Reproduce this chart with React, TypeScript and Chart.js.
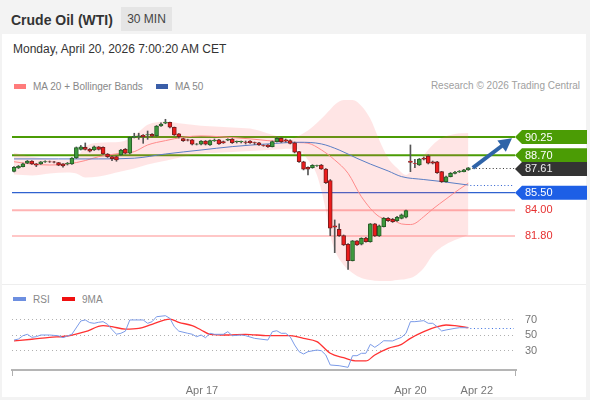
import React, { useEffect, useRef } from 'react';
import { Chart, registerables } from 'chart.js';

Chart.register(...registerables);

const FONT = '"Liberation Sans", Arial, Helvetica, sans-serif';

// ---- Candles (30 min) ----
const opens = [87.32,87.61,87.72,88.01,88.20,87.95,87.95,88.12,88.14,88.13,88.06,87.95,87.95,87.95,88.46,89.20,89.37,89.20,89.14,89.40,89.37,88.80,88.57,88.57,88.72,89.20,88.86,90.21,90.28,90.40,90.42,90.48,90.34,91.19,91.42,91.51,91.08,90.51,90.11,90.00,90.00,89.63,89.63,89.91,89.57,89.94,90.00,89.85,89.98,90.08,89.85,89.84,89.82,89.91,89.78,89.76,89.54,89.57,89.42,89.85,90.14,90.00,89.94,89.76,89.00,88.14,87.67,87.63,87.80,87.86,87.52,86.52,82.66,82.38,81.83,81.10,79.70,81.38,81.10,81.63,81.32,82.83,81.80,82.60,83.31,83.23,83.11,83.31,83.40,88.20,88.01,87.86,88.43,88.63,88.14,88.14,87.29,86.44,86.86,87.15,87.26,87.29,87.44];
const highs = [87.73,87.82,88.03,88.25,88.23,87.99,88.16,88.22,88.20,88.18,88.09,87.99,88.08,88.50,89.40,89.53,89.74,89.27,89.48,89.44,89.40,88.84,88.63,88.63,89.19,89.27,90.25,90.57,90.57,90.46,90.76,90.55,91.23,91.45,91.76,91.53,91.10,90.55,90.14,90.06,90.04,89.70,89.95,89.95,89.98,90.08,90.04,89.91,90.10,90.12,89.91,89.91,89.91,89.95,89.82,89.80,89.58,89.61,89.91,90.21,90.21,90.08,90.00,89.82,89.03,88.18,87.71,87.89,87.86,87.91,87.56,86.62,83.17,82.83,81.89,81.16,81.42,81.42,81.65,81.68,82.87,82.87,82.74,83.38,83.38,83.30,83.47,83.68,84.02,89.57,88.35,88.42,88.54,88.72,88.20,88.18,87.32,86.92,87.22,87.31,87.39,87.48,87.65];
const lows = [87.26,87.56,87.69,87.97,87.91,87.72,87.91,88.08,88.08,88.04,87.80,87.67,87.86,87.91,88.42,89.14,89.14,88.97,89.10,89.14,88.76,88.50,88.23,88.18,88.67,88.80,88.80,90.17,90.05,89.71,90.05,90.25,90.29,91.15,91.38,91.02,90.38,90.17,89.87,89.91,89.57,89.57,89.58,89.57,89.53,89.87,89.61,89.70,89.93,89.70,89.74,89.74,89.65,89.70,89.61,89.53,89.46,89.36,89.40,89.82,89.78,89.82,89.65,88.89,88.08,87.44,87.01,87.58,87.73,87.48,86.28,81.83,80.38,81.76,80.99,78.96,79.67,80.99,81.04,81.27,81.27,81.76,81.76,82.57,83.04,82.96,83.04,83.26,83.34,87.29,87.63,87.82,88.29,87.95,87.95,87.15,86.37,86.39,86.84,87.09,87.22,87.26,87.40];
const closes = [87.67,87.75,87.97,88.20,87.95,87.84,88.12,88.16,88.13,88.10,87.84,87.78,88.01,88.46,89.34,89.42,89.20,89.03,89.40,89.20,88.80,88.57,88.40,88.29,89.14,88.86,90.23,90.31,90.34,90.28,90.45,90.31,91.19,91.36,91.53,91.08,90.42,90.28,89.94,89.97,89.63,89.65,89.91,89.63,89.94,89.97,89.65,89.74,90.04,89.76,89.88,89.87,89.78,89.76,89.74,89.57,89.53,89.42,89.85,90.14,89.85,89.91,89.71,88.95,88.14,87.50,87.50,87.84,87.82,87.52,86.35,82.46,82.55,81.83,81.04,79.70,81.38,81.04,81.61,81.32,82.83,81.80,82.66,83.31,83.11,83.02,83.40,83.60,83.96,88.09,87.99,88.37,88.35,88.01,88.01,87.20,86.44,86.86,87.15,87.24,87.32,87.44,87.61];

// ---- Indicators, as [candle index, value] readings ----
const ma20 = [[0,88.14],[4,87.94],[8,87.86],[12,87.94],[16,88.24],[19,88.57],[24,88.86],[27,89.0],[30,89.57],[34,89.94],[38,90.23],[42,90.34],[46,90.28],[49,90.2],[53,90.09],[57,89.94],[60,89.86],[64,89.77],[66,89.72],[69,89.15],[72,88.29],[75,87.15],[78,85.15],[82,83.45],[85,83.17],[87,82.83],[89,82.78],[90,82.87],[92,83.45],[94,84.1],[97,84.96],[100,85.8],[102,86.31]];
const ma50 = [[0,88.38],[10,88.38],[19,88.38],[27,88.44],[34,88.8],[42,89.14],[49,89.43],[57,89.66],[64,89.8],[69,89.66],[73,89.14],[77,88.43],[80,87.94],[84,87.35],[87,86.87],[92,86.62],[96,86.45],[102,86.15]];
const bandIdx = [0,4,8,12,14,16,19,24,27,30,34,38,42,46,50,54,58,62,64,66,68,70,71,72,74,76,78,80,82,84,86,88,90,92,94,96,99,102];
const bbUpper = [88.91,88.57,88.40,88.31,88.48,89.42,89.76,89.85,90.36,91.29,91.55,91.37,91.20,91.12,91.03,90.90,90.45,90.10,90.36,90.80,91.44,92.20,92.60,93.00,93.40,93.40,92.90,91.80,90.00,88.46,87.60,87.00,87.86,88.72,89.57,90.16,90.50,90.59];
const bbLower = [87.04,86.96,87.13,87.22,87.13,86.79,86.88,87.30,87.56,87.90,88.23,88.57,88.82,88.90,88.99,89.08,89.16,89.25,89.14,88.29,87.01,84.02,81.89,80.61,79.33,78.65,78.22,78.05,77.96,77.96,78.05,78.13,78.39,79.07,80.18,80.86,81.46,81.89];

const rsi = [[0,43.5],[1,44.8],[2,49.1],[3,50.9],[4,47],[5,47.8],[6,50],[8,50],[10,49],[11,46.5],[12,48.7],[13,51],[15,68.1],[16,69.4],[17,66],[18,65.1],[19,66.4],[20,67.2],[21,63.8],[22,57],[23,51],[24,52.2],[25,55],[26,69.4],[29,69.4],[30,65.1],[31,67.2],[32,73.6],[34,74.9],[35,71.5],[36,60.7],[37,55],[39,52.2],[40,51],[41,47.8],[42,50],[43,46.5],[44,52.2],[45,50.9],[47,50.9],[48,54.3],[49,49.1],[51,50],[52,49.1],[54,45.7],[57,43.5],[58,54.3],[59,55.5],[60,52.2],[61,52.2],[62,47.8],[63,37.1],[64,28.5],[65,25.5],[66,28.5],[68,30.6],[69,29.7],[70,24.2],[71,11.3],[73,10.4],[75,8.3],[76,23.3],[77,23.3],[78,26.4],[79,26.4],[80,38],[81,34.1],[82,38],[83,42.6],[85,42.3],[86,44.8],[87,47],[88,52.2],[89,67.2],[90,67.2],[92,68.5],[93,65.1],[94,65.1],[95,60.7],[96,55.2],[97,56.5],[99,58.6],[100,59.4],[102,59.4]];
const rsiMa = [[0,42.3],[4,44.5],[8,47],[12,48.7],[16,54.3],[20,62],[22,60.7],[25,57.7],[28,58.6],[31,63.8],[35,70.6],[37,66.4],[40,62],[42,56.5],[44,50.9],[48,50],[52,50.9],[57,49.1],[62,49.1],[65,45.7],[68,41.4],[71,26.4],[74,20.7],[77,16.5],[79,16.5],[81,24.2],[84,32.8],[87,38],[89,45.7],[92,54.3],[95,60.7],[97,62.9],[99,62],[102,59.4]];

const rsiTicks = [30, 50, 70];
const dateTicks = [42.2, 89, 103.9];
const dateLabels = ['Apr 17', 'Apr 20', 'Apr 22'];

const resistances = [90.25, 88.70];
const pivot = 85.50;
const supports = [84.00, 81.80];
const lastPrice = 87.61;
const arrowTarget = 90.14;

const X_MIN = -0.45, X_MAX = 112.7;
const P_MIN = 77.62, P_MAX = 94.26;
const R_MIN = 4.84, R_MAX = 88.71;

const pts = (arr: number[][]) => arr.map(([x, y]) => ({ x, y }));

function drawTag(ctx: any, xTip: number, xRight: number, yc: number, h: number, bg: string, text: string, color: string) {
  ctx.save();
  ctx.beginPath();
  ctx.moveTo(xTip, yc);
  ctx.lineTo(xTip + 7, yc - h / 2);
  ctx.lineTo(xRight, yc - h / 2);
  ctx.lineTo(xRight, yc + h / 2);
  ctx.lineTo(xTip + 7, yc + h / 2);
  ctx.closePath();
  ctx.fillStyle = bg;
  ctx.fill();
  ctx.fillStyle = color;
  ctx.font = `11px ${FONT}`;
  ctx.textBaseline = 'middle';
  ctx.textAlign = 'left';
  ctx.fillText(text, xTip + 10, yc + 0.5);
  ctx.restore();
}

const levelsPlugin = {
  id: 'levels',
  beforeDatasetsDraw(chart: any) {
    const { ctx, chartArea, scales } = chart;
    const y = scales.y;
    const x0 = chartArea.left;
    const x1 = chartArea.right - 1;
    const hline = (price: number, color: string, w: number) => {
      const py = y.getPixelForValue(price);
      ctx.save();
      ctx.strokeStyle = color;
      ctx.lineWidth = w;
      ctx.beginPath();
      ctx.moveTo(x0, py);
      ctx.lineTo(x1, py);
      ctx.stroke();
      ctx.restore();
    };
    hline(supports[0], '#ffb4b4', 2);
    hline(supports[1], '#ff9090', 1.2);
    hline(pivot, '#2f62d0', 1.3);
    resistances.forEach((p) => hline(p, '#4b9c05', 2));
  },
  afterDatasetsDraw(chart: any) {
    const { ctx, chartArea, scales } = chart;
    const x = scales.x;
    const y = scales.y;
    const xTip = chartArea.right - 1;
    const xRight = chart.width - 3;
    const last = closes.length - 1;

    ctx.save();
    ctx.setLineDash([1, 2.4]);
    ctx.lineWidth = 1;
    ctx.strokeStyle = '#333';
    let py = Math.round(y.getPixelForValue(lastPrice)) + 0.5;
    ctx.beginPath();
    ctx.moveTo(x.getPixelForValue(last) + 4, py);
    ctx.lineTo(xTip, py);
    ctx.stroke();
    ctx.strokeStyle = '#2c5fd0';
    py = Math.round(y.getPixelForValue(ma50[ma50.length - 1][1])) + 0.5;
    ctx.beginPath();
    ctx.moveTo(x.getPixelForValue(last) + 2, py);
    ctx.lineTo(xTip - 2, py);
    ctx.stroke();
    ctx.restore();

    const ax0 = x.getPixelForValue(last + 1), ay0 = y.getPixelForValue(closes[last]);
    const ax1 = x.getPixelForValue(last + 9.8), ay1 = y.getPixelForValue(arrowTarget);
    const dx = ax1 - ax0, dy = ay1 - ay0;
    const len = Math.hypot(dx, dy);
    const ux = dx / len, uy = dy / len;
    const head = 13, hw = 7;
    const bx = ax1 - ux * head, by = ay1 - uy * head;
    ctx.save();
    ctx.strokeStyle = '#2f64a8';
    ctx.fillStyle = '#2f64a8';
    ctx.lineWidth = 4;
    ctx.beginPath();
    ctx.moveTo(ax0, ay0);
    ctx.lineTo(bx + ux, by + uy);
    ctx.stroke();
    ctx.beginPath();
    ctx.moveTo(ax1, ay1);
    ctx.lineTo(bx - uy * hw, by + ux * hw);
    ctx.lineTo(bx + uy * hw, by - ux * hw);
    ctx.closePath();
    ctx.fill();
    ctx.restore();

    const H = 14;
    resistances.forEach((p) => drawTag(ctx, xTip, xRight, y.getPixelForValue(p), H, '#4b9c05', p.toFixed(2), '#ffffff'));
    drawTag(ctx, xTip, xRight, y.getPixelForValue(lastPrice) + 1, H, '#333333', lastPrice.toFixed(2), '#eeeeee');
    drawTag(ctx, xTip, xRight, y.getPixelForValue(pivot), H, '#1d5fe6', pivot.toFixed(2), '#ffffff');
    ctx.save();
    ctx.fillStyle = '#e63030';
    ctx.font = `11px ${FONT}`;
    ctx.textBaseline = 'middle';
    supports.forEach((p) => ctx.fillText(p.toFixed(2), xTip + 10, y.getPixelForValue(p)));
    ctx.restore();
  },
};

const rsiPlugin = {
  id: 'rsiExtras',
  afterDatasetsDraw(chart: any) {
    const { ctx, chartArea, scales } = chart;
    const x = scales.x, y = scales.y;
    const lastPt = rsi[rsi.length - 1];
    ctx.save();
    ctx.setLineDash([1, 2.6]);
    ctx.strokeStyle = '#3a6fe0';
    ctx.lineWidth = 1;
    const py = Math.round(y.getPixelForValue(lastPt[1])) + 0.5;
    ctx.beginPath();
    ctx.moveTo(x.getPixelForValue(lastPt[0]) + 2, py);
    ctx.lineTo(chartArea.right - 2, py);
    ctx.stroke();
    ctx.restore();
  },
  afterDraw(chart: any) {
    const { ctx, chartArea } = chart;
    ctx.save();
    ctx.strokeStyle = '#b0b0b0';
    ctx.lineWidth = 1;
    [chartArea.left + 0.5, chartArea.right - 0.5].forEach((px) => {
      ctx.beginPath();
      ctx.moveTo(px, chartArea.bottom);
      ctx.lineTo(px, chartArea.bottom + 6);
      ctx.stroke();
    });
    ctx.restore();
  },
};

export default function App() {
  const mainRef = useRef<HTMLCanvasElement>(null);
  const rsiRef = useRef<HTMLCanvasElement>(null);

  useEffect(() => {
    const idx = closes.map((_, i) => i);
    const up = idx.map((i) => closes[i] >= opens[i]);
    const main = new Chart(mainRef.current as HTMLCanvasElement, {
      type: 'bar',
      data: {
        datasets: [
          { type: 'line', label: 'BB upper', data: bandIdx.map((x, k) => ({ x, y: bbUpper[k] })), borderColor: 'transparent', borderWidth: 1, pointRadius: 0, cubicInterpolationMode: 'monotone', fill: '+1', backgroundColor: 'rgba(255,100,100,0.17)', order: 6 },
          { type: 'line', label: 'BB lower', data: bandIdx.map((x, k) => ({ x, y: bbLower[k] })), borderColor: 'transparent', borderWidth: 1, pointRadius: 0, cubicInterpolationMode: 'monotone', fill: false, order: 6 },
          { type: 'line', label: 'MA 50', data: pts(ma50), borderColor: '#5b7ec4', borderWidth: 1, pointRadius: 0, cubicInterpolationMode: 'monotone', fill: false, order: 4 },
          { type: 'line', label: 'MA 20', data: pts(ma20), borderColor: '#ff8a8a', borderWidth: 1, pointRadius: 0, cubicInterpolationMode: 'monotone', fill: false, order: 4 },
          { type: 'bar', label: 'wick', data: idx.map((i) => ({ x: i, y: [lows[i], highs[i]] })), backgroundColor: '#555', barThickness: 1, grouped: false, order: 2 },
          { type: 'bar', label: 'body', data: idx.map((i) => ({ x: i, y: [opens[i], closes[i]] })), backgroundColor: up.map((u) => (u ? '#3d9a3d' : '#ec1c1c')), borderColor: up.map((u) => (u ? '#275e27' : '#7c1e1e')), borderWidth: 1, borderSkipped: false, barThickness: 4, grouped: false, order: 1 },
        ] as any,
      },
      options: {
        responsive: false,
        animation: false,
        layout: { padding: { left: 12, right: 74, top: 90, bottom: 115 } },
        scales: {
          x: { type: 'linear', min: X_MIN, max: X_MAX, offset: false, display: false },
          y: { type: 'linear', min: P_MIN, max: P_MAX, beginAtZero: false, display: false },
        },
        plugins: { legend: { display: false }, tooltip: { enabled: false } },
      } as any,
      plugins: [levelsPlugin],
    });

    const rsiChart = new Chart(rsiRef.current as HTMLCanvasElement, {
      type: 'line',
      data: {
        datasets: [
          { label: 'RSI', data: pts(rsi), borderColor: '#7b9be8', borderWidth: 1, pointRadius: 0, tension: 0, fill: false },
          { label: '9MA', data: pts(rsiMa), borderColor: '#ff3333', borderWidth: 1.3, pointRadius: 0, cubicInterpolationMode: 'monotone', fill: false },
        ],
      },
      options: {
        responsive: false,
        animation: false,
        layout: { padding: { left: 12, right: 0, top: 20, bottom: 0 } },
        scales: {
          x: {
            type: 'linear', min: X_MIN, max: X_MAX, offset: false,
            afterBuildTicks: (s: any) => { s.ticks = dateTicks.map((v) => ({ value: v })); },
            afterFit: (s: any) => { s.height = 30; },
            grid: { display: false },
            border: { display: true, color: '#b5b5b5', width: 2 },
            ticks: { autoSkip: false, maxRotation: 0, padding: 6, color: '#777', font: { family: FONT, size: 11 }, callback: (_v: any, i: number) => dateLabels[i] },
          },
          y: {
            type: 'linear', position: 'right', min: R_MIN, max: R_MAX,
            afterBuildTicks: (s: any) => { s.ticks = rsiTicks.map((v) => ({ value: v })); },
            afterFit: (s: any) => { s.width = 74; },
            grid: { color: '#b0b0b0', drawTicks: false, lineWidth: 1 },
            border: { display: false, dash: [1, 3] },
            ticks: { padding: 9, color: '#777', font: { family: FONT, size: 11 } },
          },
        },
        plugins: { legend: { display: false }, tooltip: { enabled: false } },
      } as any,
      plugins: [rsiPlugin],
    });

    return () => {
      main.destroy();
      rsiChart.destroy();
    };
  }, []);

  const abs = (s: any) => ({ position: 'absolute', ...s } as React.CSSProperties);

  return (
    <div style={abs({ position: 'fixed', left: 0, top: 0, width: 590, height: 400, background: '#f3f3f3', overflow: 'hidden', fontFamily: FONT })}>
      <div style={abs({ left: 2, top: 34, width: 584, height: 363, background: '#ffffff' })} />
      <div style={abs({ left: 2, top: 284, width: 584, height: 1, background: '#eeeeee' })} />
      <div style={abs({ left: 11, top: 9.5, lineHeight: '20px', fontSize: 14, fontWeight: 700, color: '#333', whiteSpace: 'nowrap' })}>Crude Oil (WTI)</div>
      <div style={abs({ left: 121, top: 7, width: 51, height: 24, lineHeight: '24px', textAlign: 'center', background: '#e5e5e5', fontSize: 12, color: '#444', whiteSpace: 'nowrap' })}>30 MIN</div>
      <div style={abs({ left: 13, top: 38.5, lineHeight: '20px', fontSize: 12, color: '#333', whiteSpace: 'nowrap' })}>Monday, April 20, 2026 7:00:20 AM CET</div>

      <div style={abs({ left: 14, top: 84, width: 12, height: 5, background: '#ff7b7b' })} />
      <div style={abs({ left: 33, top: 76.5, lineHeight: '20px', fontSize: 10, color: '#888', whiteSpace: 'nowrap' })}>MA 20 + Bollinger Bands</div>
      <div style={abs({ left: 156, top: 84, width: 12, height: 5, background: '#3a5ea8' })} />
      <div style={abs({ left: 175, top: 76.5, lineHeight: '20px', fontSize: 10, color: '#888', whiteSpace: 'nowrap' })}>MA 50</div>
      <div style={abs({ right: 10, top: 76, lineHeight: '20px', fontSize: 10, color: '#a0a0a0', whiteSpace: 'nowrap' })}>Research © 2026 Trading Central</div>

      <div style={abs({ left: 13, top: 297, width: 13, height: 4, background: '#6d8fe0' })} />
      <div style={abs({ left: 33, top: 289.5, lineHeight: '20px', fontSize: 10, color: '#888', whiteSpace: 'nowrap' })}>RSI</div>
      <div style={abs({ left: 62, top: 297, width: 13, height: 4, background: '#f01010' })} />
      <div style={abs({ left: 82, top: 289.5, lineHeight: '20px', fontSize: 10, color: '#888', whiteSpace: 'nowrap' })}>9MA</div>

      <canvas ref={mainRef} width={590} height={400} style={abs({ left: 0, top: 0, width: 590, height: 400 })} />
      <canvas ref={rsiRef} width={590} height={115} style={abs({ left: 0, top: 285, width: 590, height: 115 })} />
    </div>
  );
}
